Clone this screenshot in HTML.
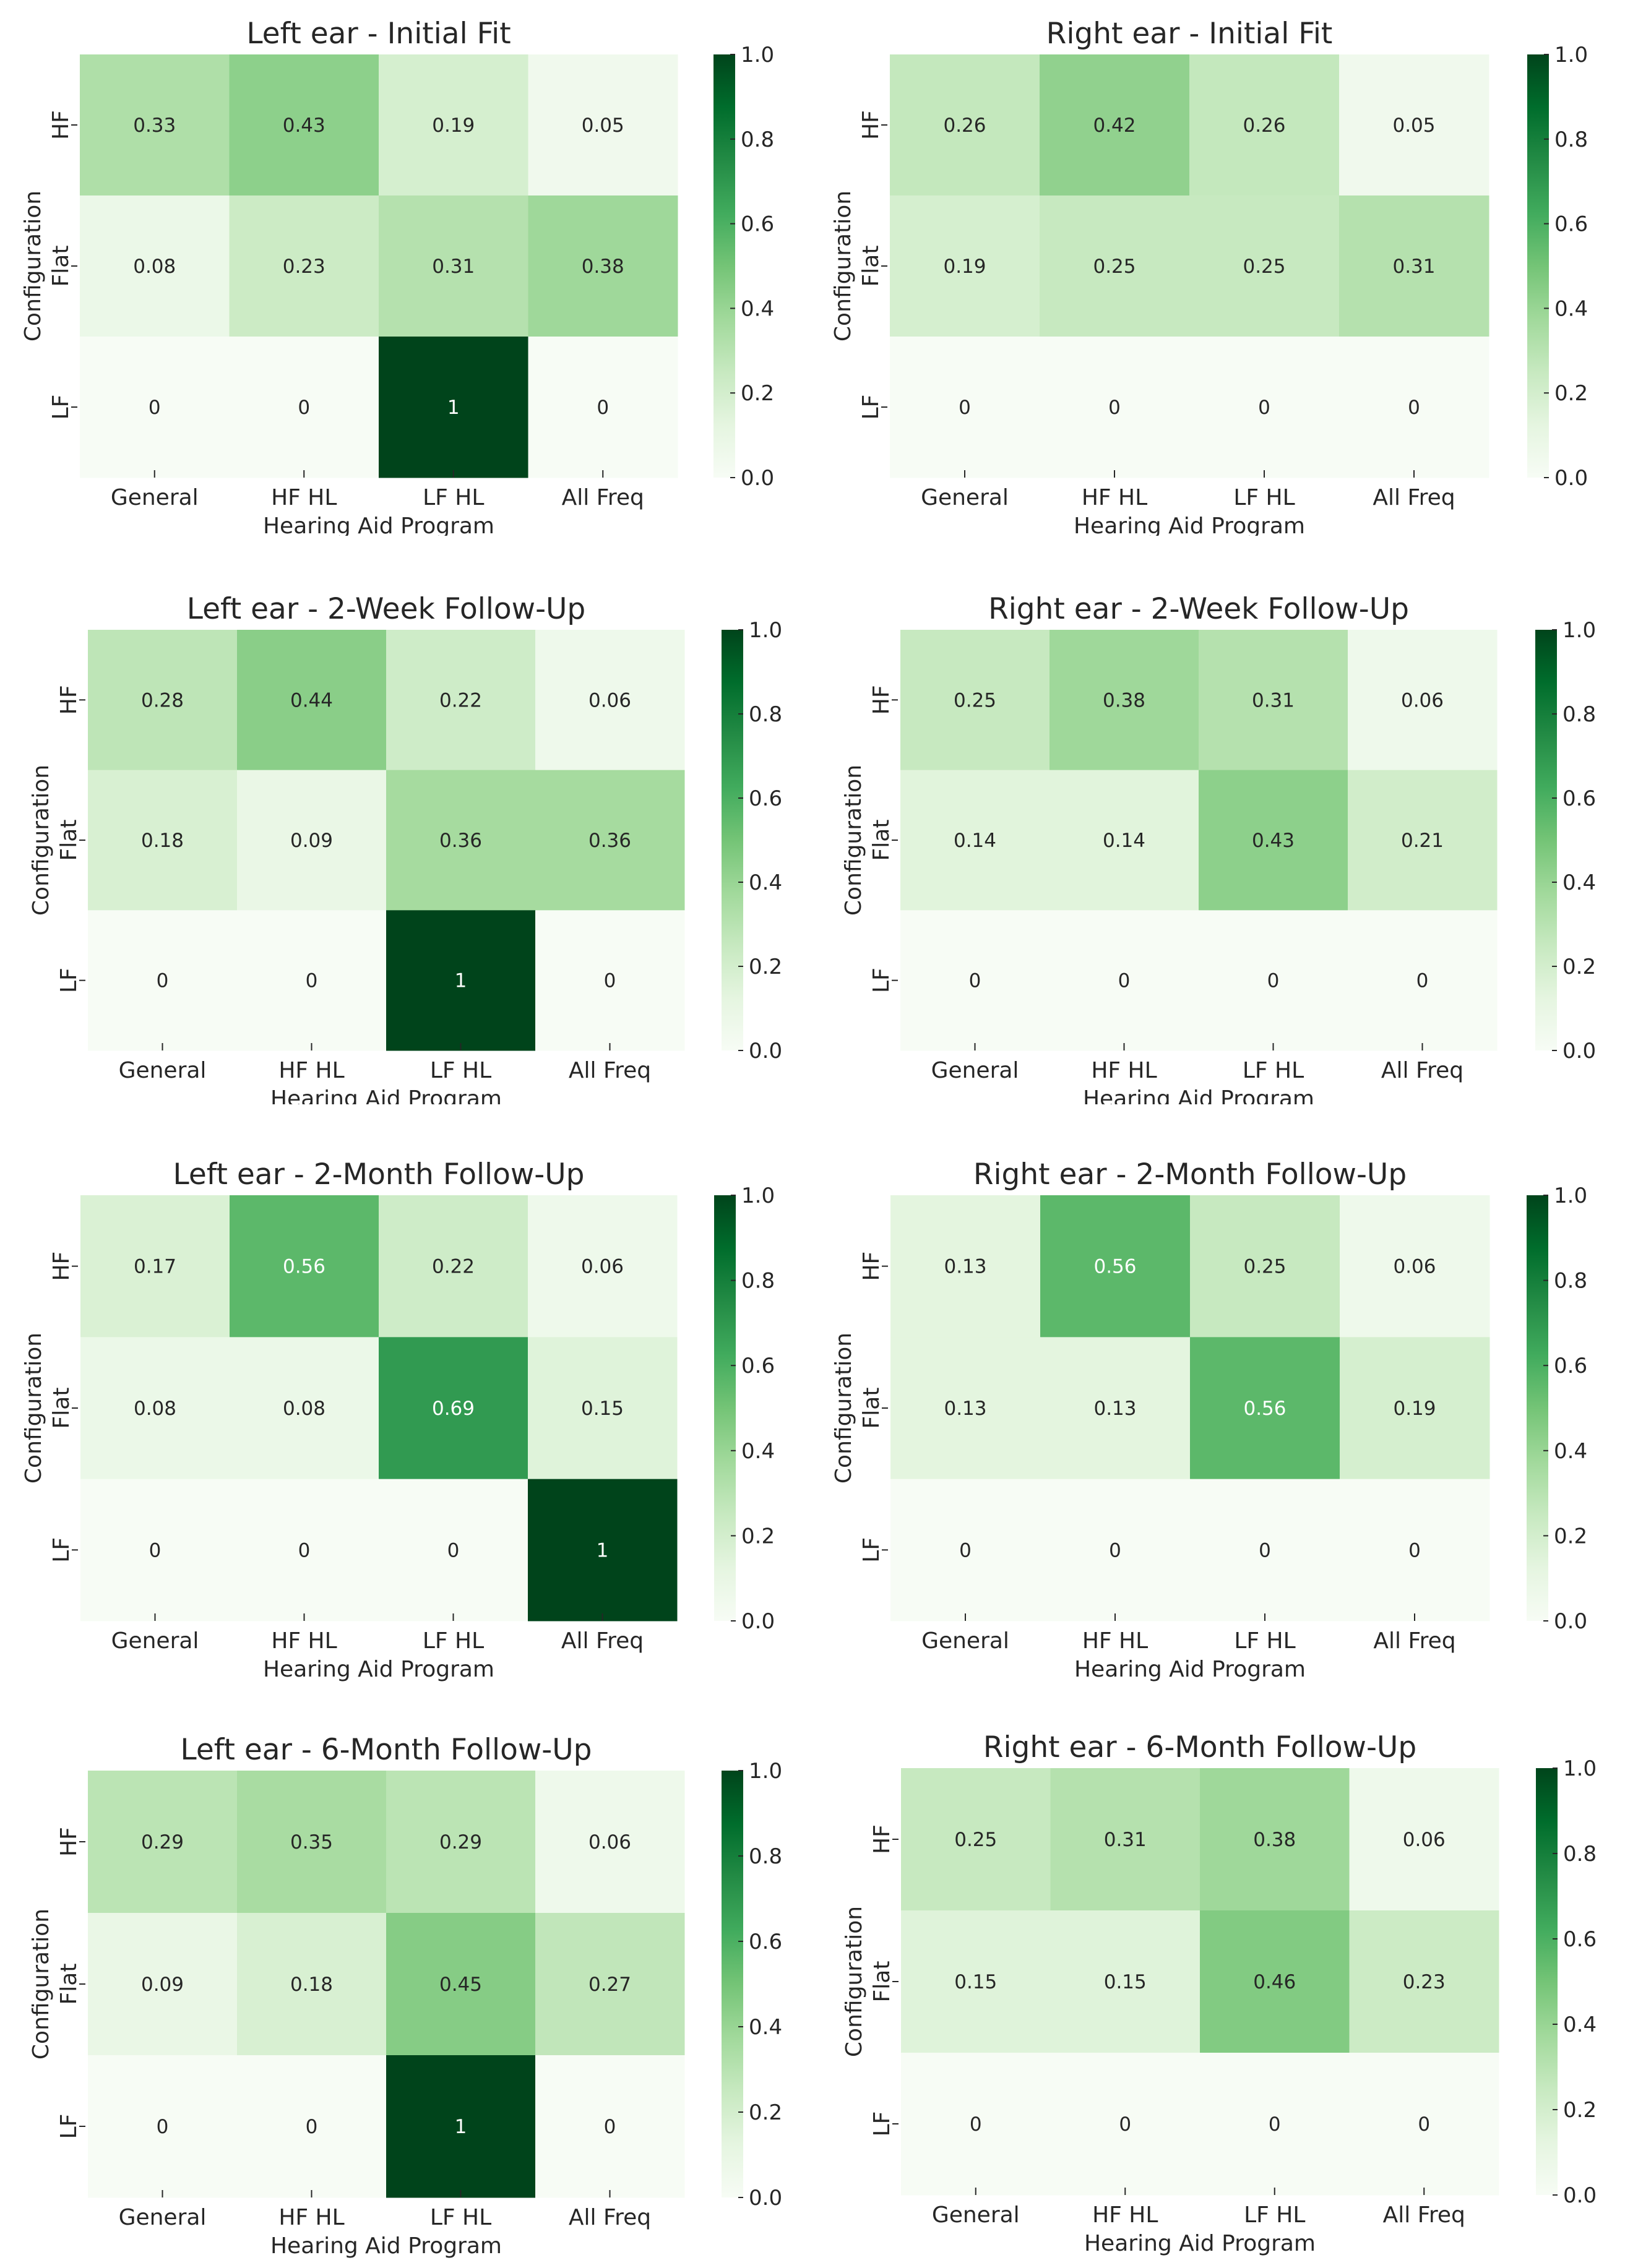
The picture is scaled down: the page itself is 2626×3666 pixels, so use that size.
<!DOCTYPE html>
<html><head><meta charset="utf-8">
<style>
html,body{margin:0;padding:0;background:#fff;}
svg{display:block;}
text{font-family:"DejaVu Sans","Liberation Sans",sans-serif;fill:#262626;}
</style></head>
<body>
<svg id="chart" width="2626" height="3666" viewBox="0 0 2626 3666" xmlns="http://www.w3.org/2000/svg"></svg>
<script>
// ---- data ----
const programs = ["General","HF HL","LF HL","All Freq"];
const configs = ["HF","Flat","LF"];
const titles = ["Left ear - Initial Fit","Right ear - Initial Fit","Left ear - 2-Week Follow-Up","Right ear - 2-Week Follow-Up","Left ear - 2-Month Follow-Up","Right ear - 2-Month Follow-Up","Left ear - 6-Month Follow-Up","Right ear - 6-Month Follow-Up"];
const leftInitial = [[0.33,0.43,0.19,0.05],[0.08,0.23,0.31,0.38],[0,0,1,0]];
const rightInitial = [[0.26,0.42,0.26,0.05],[0.19,0.25,0.25,0.31],[0,0,0,0]];
const left2Week = [[0.28,0.44,0.22,0.06],[0.18,0.09,0.36,0.36],[0,0,1,0]];
const right2Week = [[0.25,0.38,0.31,0.06],[0.14,0.14,0.43,0.21],[0,0,0,0]];
const left2Month = [[0.17,0.56,0.22,0.06],[0.08,0.08,0.69,0.15],[0,0,0,1]];
const right2Month = [[0.13,0.56,0.25,0.06],[0.13,0.13,0.56,0.19],[0,0,0,0]];
const left6Month = [[0.29,0.35,0.29,0.06],[0.09,0.18,0.45,0.27],[0,0,1,0]];
const right6Month = [[0.25,0.31,0.38,0.06],[0.15,0.15,0.46,0.23],[0,0,0,0]];
const cbTicks = [0,0.2,0.4,0.6,0.8,1.0];
const cbTickLabels = ["0.0","0.2","0.4","0.6","0.8","1.0"];
const panelData = [leftInitial,rightInitial,left2Week,right2Week,left2Month,right2Month,left6Month,right6Month];
const panelNames = ["left-initial","right-initial","left-2week","right-2week","left-2month","right-2month","left-6month","right-6month"];

// ---- layout (pixels) ----
const layout = [
 {x:129,y:88,w:966,h:684,cb:1153,clip:866},
 {x:1438,y:88,w:968,h:684,cb:2468,clip:866},
 {x:142,y:1018,w:964,h:680,cb:1166,clip:1785},
 {x:1455,y:1018,w:964,h:680,cb:2481,clip:1785},
 {x:130,y:1932,w:964,h:688,cb:1154,clip:3000},
 {x:1439,y:1932,w:968,h:688,cb:2467,clip:3000},
 {x:142,y:2862,w:964,h:690,cb:1166,clip:3666},
 {x:1456,y:2858,w:966,h:690,cb:2482,clip:3666}
];

const greens = ["#f7fcf5","#e5f5e0","#c7e9c0","#a1d99b","#74c476","#41ab5d","#238b45","#006d2c","#00441b"];
function hex2rgb(h){return [parseInt(h.slice(1,3),16),parseInt(h.slice(3,5),16),parseInt(h.slice(5,7),16)];}
function cmap(v){
  v=Math.max(0,Math.min(1,v));
  const p=v*(greens.length-1), i=Math.min(Math.floor(p),greens.length-2), t=p-i;
  const a=hex2rgb(greens[i]), b=hex2rgb(greens[i+1]);
  return a.map((c,k)=>Math.round(c+(b[k]-c)*t));
}
function rgbStr(c){return "rgb("+c.join(",")+")";}
function lum(c){const f=c.map(x=>{x/=255;return x<=0.03928?x/12.92:Math.pow((x+0.055)/1.055,2.4);});return 0.2126*f[0]+0.7152*f[1]+0.0722*f[2];}

const NS="http://www.w3.org/2000/svg";
const svg=document.getElementById("chart");
function mk(tag,attrs,parent){const e=document.createElementNS(NS,tag);for(const k in attrs)e.setAttribute(k,attrs[k]);(parent||svg).appendChild(e);return e;}

// gradient for colorbar
const defs=mk("defs",{});
const grad=mk("linearGradient",{id:"cbgrad",x1:"0",y1:"1",x2:"0",y2:"0"},defs);
greens.forEach((g,i)=>mk("stop",{offset:(i/(greens.length-1)).toFixed(3),"stop-color":g},grad));

panelData.forEach((data,p)=>{
  const L=layout[p];
  const cp=mk("clipPath",{id:"clip"+p},defs);
  mk("rect",{x:0,y:L.y-200,width:2626,height:L.clip-(L.y-200)},cp);
  const g=mk("g",{"clip-path":"url(#clip"+p+")"});
  
  
  const nc=programs.length, nr=configs.length;
  const cw=L.w/nc, ch=L.h/nr;
  const xS=i=>L.x+i*cw, yS=j=>L.y+j*ch;
  // title
  const t=mk("text",{x:L.x+L.w/2,y:L.y-18,"text-anchor":"middle","font-size":"47"},g);
  t.textContent=titles[p];
  
  
  // cells
  data.forEach((row,j)=>row.forEach((v,i)=>{
    const c=cmap(v);
    const r=mk("rect",{x:xS(i),y:yS(j),width:cw+0.5,height:ch+0.5,fill:rgbStr(c)},g);
    
    
    const a=mk("text",{x:xS(i)+cw/2,y:yS(j)+ch/2+11,"text-anchor":"middle","font-size":"31"},g);
    a.textContent=String(v);
    a.style.fill=lum(c)<0.408?"#ffffff":"#262626";
    
    
  }));
  // x ticks
  programs.forEach((lab,i)=>{
    const cx=xS(i)+cw/2;
    mk("line",{x1:cx,y1:L.y+L.h-12,x2:cx,y2:L.y+L.h,stroke:"#262626","stroke-width":"2"},g);
    const tx=mk("text",{x:cx,y:L.y+L.h+44,"text-anchor":"middle","font-size":"36"},g);
    tx.textContent=lab;
    
    
  });
  const xl=mk("text",{x:L.x+L.w/2,y:L.y+L.h+90,"text-anchor":"middle","font-size":"36"},g);
  xl.textContent="Hearing Aid Program";
  
  
  // y ticks
  configs.forEach((lab,j)=>{
    const cy=yS(j)+ch/2;
    mk("line",{x1:L.x-14,y1:cy,x2:L.x-4,y2:cy,stroke:"#262626","stroke-width":"2"},g);
    const ty=mk("text",{x:0,y:0,"text-anchor":"middle","font-size":"36",transform:"translate("+(L.x-19)+","+cy+") rotate(-90)"},g);
    ty.textContent=lab;
    
    
  });
  const yl=mk("text",{x:0,y:0,"text-anchor":"middle","font-size":"36",transform:"translate("+(L.x-64)+","+(L.y+L.h/2)+") rotate(-90)"},g);
  yl.textContent="Configuration";
  
  
  // colorbar
  const cb=mk("rect",{x:L.cb,y:L.y,width:35,height:L.h,fill:"url(#cbgrad)"},g);
  
  
  const cbY=v=>L.y+L.h-v*L.h;
  cbTicks.forEach((v,k)=>{
    mk("line",{x1:L.cb+27,y1:cbY(v),x2:L.cb+35,y2:cbY(v),stroke:"#262626","stroke-width":"2"},g);
    const ct=mk("text",{x:L.cb+44,y:cbY(v)+12,"font-size":"34"},g);
    ct.textContent=cbTickLabels[k];
    
    
  });
});
</script>
</body></html>
